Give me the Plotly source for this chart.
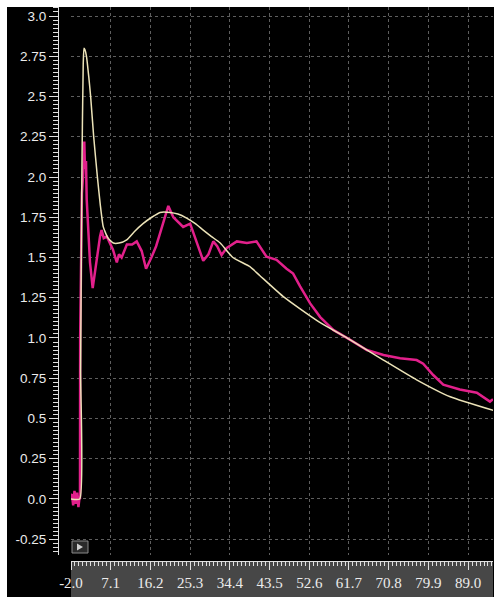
import plotly.graph_objects as go

meas_x = [-2.0, -1.8, -1.5, -1.2, -0.9, -0.6, -0.3, 0.0, 0.06, 0.1, 0.5, 0.8, 1.05, 1.2, 1.44, 1.6,
          2.0, 2.35, 2.97, 3.4, 3.9, 4.65, 5.0, 5.5, 6.2, 7.0, 7.6, 8.5, 9.0, 9.6, 10.8, 12.0,
          13.06, 14.2, 15.2, 16.5, 17.5, 18.4, 19.5, 20.3, 21.45, 22.5, 23.7, 25.3, 26.8, 28.3,
          29.5, 30.6, 31.5, 32.5, 33.7, 35.0, 36.0, 38.3, 40.5, 42.8, 45.1, 47.4, 48.9, 50.5,
          52.8, 55.1, 58.1, 61.9, 65.8, 69.6, 73.4, 77.2, 78.7, 81.0, 83.3, 87.1, 91.0, 94.0, 94.7]
meas_y = [0.02, 0.03, -0.04, 0.05, -0.03, 0.04, -0.05, 0.02, 0.0, 1.0, 1.9, 2.02, 2.22, 2.05, 2.1, 1.86,
          1.6, 1.47, 1.31, 1.40, 1.49, 1.63, 1.67, 1.62, 1.63, 1.58, 1.55, 1.47, 1.52, 1.50, 1.58, 1.58,
          1.60, 1.54, 1.43, 1.505, 1.57, 1.65, 1.74, 1.82, 1.75, 1.72, 1.69, 1.71, 1.59, 1.48,
          1.52, 1.60, 1.57, 1.515, 1.56, 1.58, 1.60, 1.59, 1.60, 1.505, 1.485, 1.43, 1.40, 1.32,
          1.215, 1.13, 1.05, 0.99, 0.925, 0.894, 0.874, 0.863, 0.84, 0.77, 0.71, 0.68, 0.66, 0.605, 0.62]

# model curve (pale yellow)
model_x = [-2.0, 0.0, 0.2, 0.5, 0.8, 0.98, 1.2, 1.55, 2.08, 2.5, 3.2, 4.05, 4.7, 5.4, 6.5, 7.7, 9.0,
           10.77, 12.5, 14.5, 16.5, 18.4, 20.7, 22.5, 24.5, 26.5, 28.3, 30.2, 32.2, 35.1, 39.0, 41.3,
           46.65, 54.3, 61.9, 69.6, 77.2, 84.9, 94.8]
model_y = [0.0, 0.0, 0.8, 2.04, 2.7, 2.80, 2.79, 2.75, 2.62, 2.5, 2.25, 2.0, 1.83, 1.69, 1.62, 1.59, 1.59,
           1.61, 1.66, 1.71, 1.75, 1.78, 1.78, 1.77, 1.745, 1.71, 1.67, 1.63, 1.59, 1.50, 1.443, 1.387,
           1.257, 1.11, 0.99, 0.863, 0.74, 0.635, 0.55]

y_ticks = [3.0, 2.75, 2.5, 2.25, 2.0, 1.75, 1.5, 1.25, 1.0, 0.75, 0.5, 0.25, 0.0, -0.25]
y_labels = ["3.0", "2.75", "2.5", "2.25", "2.0", "1.75", "1.5", "1.25", "1.0", "0.75", "0.5", "0.25", "0.0", "-0.25"]
x_ticks = [-2.0, 7.1, 16.2, 25.3, 34.4, 43.5, 52.6, 61.7, 70.8, 79.9, 89.0]
x_labels = ["-2.0", "7.1", "16.2", "25.3", "34.4", "43.5", "52.6", "61.7", "70.8", "79.9", "89.0"]

W, H = 500, 603
def px(x):
    return x / W
def py(y):
    return (H - y) / H

fig = go.Figure()
fig.add_trace(go.Scatter(x=meas_x, y=meas_y, mode="lines",
                         line=dict(color="#e2208b", width=2.5), hoverinfo="skip"))
fig.add_trace(go.Scatter(x=model_x, y=model_y, mode="lines",
                         line=dict(color="#ece3b8", width=1.5, shape="spline", smoothing=0.5),
                         hoverinfo="skip"))

fig.update_layout(
    width=W, height=H,
    margin=dict(l=0, r=0, t=0, b=0, pad=0),
    paper_bgcolor="white",
    plot_bgcolor="black",
    showlegend=False,
    xaxis=dict(
        domain=[px(71), px(493)],
        range=[-2.0, 94.7],
        anchor="free", position=py(561),
        automargin=False,
        tickvals=x_ticks, ticktext=x_labels,
        ticks="outside", ticklen=8, tickcolor="#e0e0e0", tickwidth=1,
        minor=dict(dtick=0.91, tick0=-2.0, ticks="outside", ticklen=4, tickcolor="#e0e0e0", showgrid=False),
        showline=True, linecolor="#e0e0e0",
        tickfont=dict(family="Liberation Serif", size=15, color="#ececec"),
        showgrid=True, gridcolor="#5e5e5e", griddash="dot", gridwidth=1,
        zeroline=False,
    ),
    yaxis=dict(
        domain=[py(555), py(7)],
        range=[-0.348, 3.056],
        anchor="free", position=px(58),
        automargin=False,
        tickvals=y_ticks, ticktext=y_labels,
        ticks="outside", ticklen=9, tickcolor="#e0e0e0", tickwidth=1,
        minor=dict(dtick=0.025, tick0=0, ticks="outside", ticklen=5, tickcolor="#e0e0e0", showgrid=False),
        showline=True, linecolor="#e0e0e0",
        tickfont=dict(family="Liberation Sans", size=13.5, color="#ececec"),
        showgrid=True, gridcolor="#5e5e5e", griddash="dot", gridwidth=1,
        zeroline=False,
    ),
)

# dark panel behind everything
fig.add_shape(type="rect", xref="paper", yref="paper",
              x0=px(7), x1=px(494), y0=py(597), y1=py(7),
              fillcolor="black", line_width=0, layer="below")
# grey band under the x axis
fig.add_shape(type="rect", xref="paper", yref="paper",
              x0=px(71), x1=px(493), y0=py(597), y1=py(561),
              fillcolor="#474747", line_width=0, layer="below")
# small play button
fig.add_shape(type="rect", xref="paper", yref="paper",
              x0=px(72), x1=px(88), y0=py(553), y1=py(541),
              fillcolor="#2a2a2a", line=dict(color="#8a8a8a", width=1), layer="above")
fig.add_shape(type="path", xref="paper", yref="paper",
              path=f"M {px(77)} {py(543.5)} L {px(77)} {py(550.5)} L {px(83)} {py(547)} Z",
              fillcolor="#cfcfcf", line_width=0, layer="above")

# page body has a default 8px margin; drop it so the figure sits at 0,0
fig.write_html("out.html", config={"displayModeBar": False},
               post_script="document.body.style.margin='0';")
